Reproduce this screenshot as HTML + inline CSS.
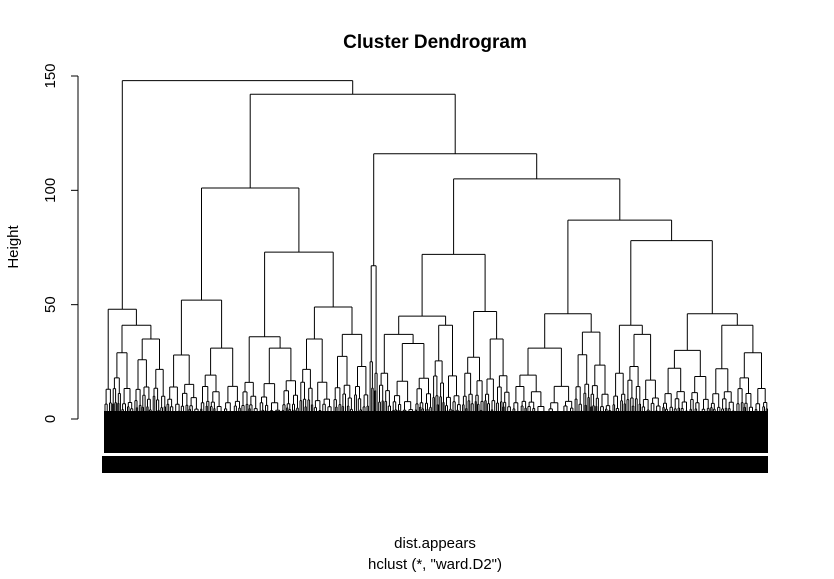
<!DOCTYPE html>
<html><head><meta charset="utf-8"><style>
html,body{margin:0;padding:0;background:#fff;}
svg text{font-family:"Liberation Sans",sans-serif;fill:#000;}
</style></head><body>
<svg id="chart" width="834" height="574" viewBox="0 0 834 574" xmlns="http://www.w3.org/2000/svg">
<rect width="834" height="574" fill="#fff"/>
<text x="435" y="48" font-size="19" font-weight="bold" text-anchor="middle">Cluster Dendrogram</text>
<text x="435" y="548" font-size="15" text-anchor="middle">dist.appears</text>
<text x="435" y="569" font-size="15" text-anchor="middle">hclust (*, "ward.D2")</text>
<text x="18" y="247" font-size="15" text-anchor="middle" transform="rotate(-90 18 247)">Height</text>
<g id="axis"></g>
<rect x="104" y="411" width="664" height="42" fill="#000"/>
<rect x="102" y="456" width="666" height="17" fill="#000"/>
<g id="tree" stroke="#000" stroke-width="1" fill="none"></g>
</svg>
<script>
// y-axis ticks
const yTicks = [0, 50, 100, 150];
// cluster blocks: terminal = [height, weight]; node = [height, left, right]
const clusterA = [48, [13, 8], [41, [29, 22], [35, 32]]];
const clusterB = [52, [28, 34], [31, 41]];
const clusterC = [36, [16, 18], [31, 40]];
const clusterD = [49, [35, 34], [37, 36]];
const clusterE = [67, [25, 5], [20, 4]];
const clusterF = [45, [37, [20, 14], [33, 40]], [41, 30]];
const clusterG = [47, [27, 22], [35, 28]];
const clusterH = [46, [31, 62], [38, 38]];
const clusterI = [41, [20, 14], [37, 36]];
const clusterJ = [46, [30, 48], [41, [22, 26], [29, 32]]];
// upper merge heights
const mergeHeights = { n78: 78, n87: 87, n72: 72, n105: 105, n116: 116, n73: 73, n101: 101, n142: 142, root: 148 };

const tree = [mergeHeights.root, clusterA,
  [mergeHeights.n142,
    [mergeHeights.n101, clusterB, [mergeHeights.n73, clusterC, clusterD]],
    [mergeHeights.n116, clusterE,
      [mergeHeights.n105,
        [mergeHeights.n72, clusterF, clusterG],
        [mergeHeights.n87, clusterH, [mergeHeights.n78, clusterI, clusterJ]]]]]];

const X0 = 104, X1 = 768, Y0 = 419, PXU = 343 / 150, LEAFY = 453;
function yS(h) { return Y0 - h * PXU; }
function weight(n) { return n.length === 2 ? n[1] : weight(n[1]) + weight(n[2]); }
const total = weight(tree);
const xsc = (X1 - X0) / total;
const NS = 'http://www.w3.org/2000/svg';
const g = document.getElementById('tree');
let pathD = '';
function seg(x1, y1, x2, y2) { pathD += 'M' + x1.toFixed(1) + ' ' + y1.toFixed(1) + 'L' + x2.toFixed(1) + ' ' + y2.toFixed(1); }
function merge(cl, hl, cr, hr, h) {
  seg(cl, yS(hl), cl, yS(h)); seg(cl, yS(h), cr, yS(h)); seg(cr, yS(h), cr, yS(hr));
}
// decorative sub-structure below each terminal cluster
function synth(a, b, h, k) {
  const w = b - a;
  if (w < 2.2 || h < 3) { const c = (a + b) / 2; seg(c, yS(h), c, LEAFY); return c; }
  const r = (k % 2) ? 0.42 : 0.57;
  const m = a + w * r;
  const hl = h * (0.5 + 0.12 * (k % 3));
  const hr = h * (0.62 - 0.08 * ((k + 1) % 3));
  const cl = synth(a, m, hl, k + 1);
  const cr = synth(m, b, hr, k + 2);
  merge(cl, hl, cr, hr, h);
  return (cl + cr) / 2;
}
let leafIdx = 0;
function layout(n, x) {
  if (n.length === 2) {
    const w = n[1] * xsc;
    const c = synth(x, x + w, n[0], leafIdx++);
    return { c: c, x: x + w, h: n[0] };
  }
  const L = layout(n[1], x);
  const R = layout(n[2], L.x);
  merge(L.c, L.h, R.c, R.h, n[0]);
  return { c: (L.c + R.c) / 2, x: R.x, h: n[0] };
}
layout(tree, X0);
const p = document.createElementNS(NS, 'path');
p.setAttribute('d', pathD);


g.appendChild(p);

// axis
const ax = document.getElementById('axis');
const AX = 78;
const line = document.createElementNS(NS, 'line');
line.setAttribute('x1', AX); line.setAttribute('x2', AX);
line.setAttribute('y1', yS(yTicks[0])); line.setAttribute('y2', yS(yTicks[yTicks.length - 1]));
line.setAttribute('stroke', '#000');


ax.appendChild(line);
yTicks.forEach(function (t) {
  const y = yS(t);
  const tk = document.createElementNS(NS, 'line');
  tk.setAttribute('x1', AX - 7); tk.setAttribute('x2', AX);
  tk.setAttribute('y1', y); tk.setAttribute('y2', y);
  tk.setAttribute('stroke', '#000');
  
  
  ax.appendChild(tk);
  const tx = document.createElementNS(NS, 'text');
  tx.setAttribute('x', 55); tx.setAttribute('y', y);
  tx.setAttribute('font-size', '15');
  tx.setAttribute('text-anchor', 'middle');
  tx.setAttribute('transform', 'rotate(-90 55 ' + y + ')');
  tx.textContent = t;
  
  
  ax.appendChild(tx);
});
</script>
</body></html>
